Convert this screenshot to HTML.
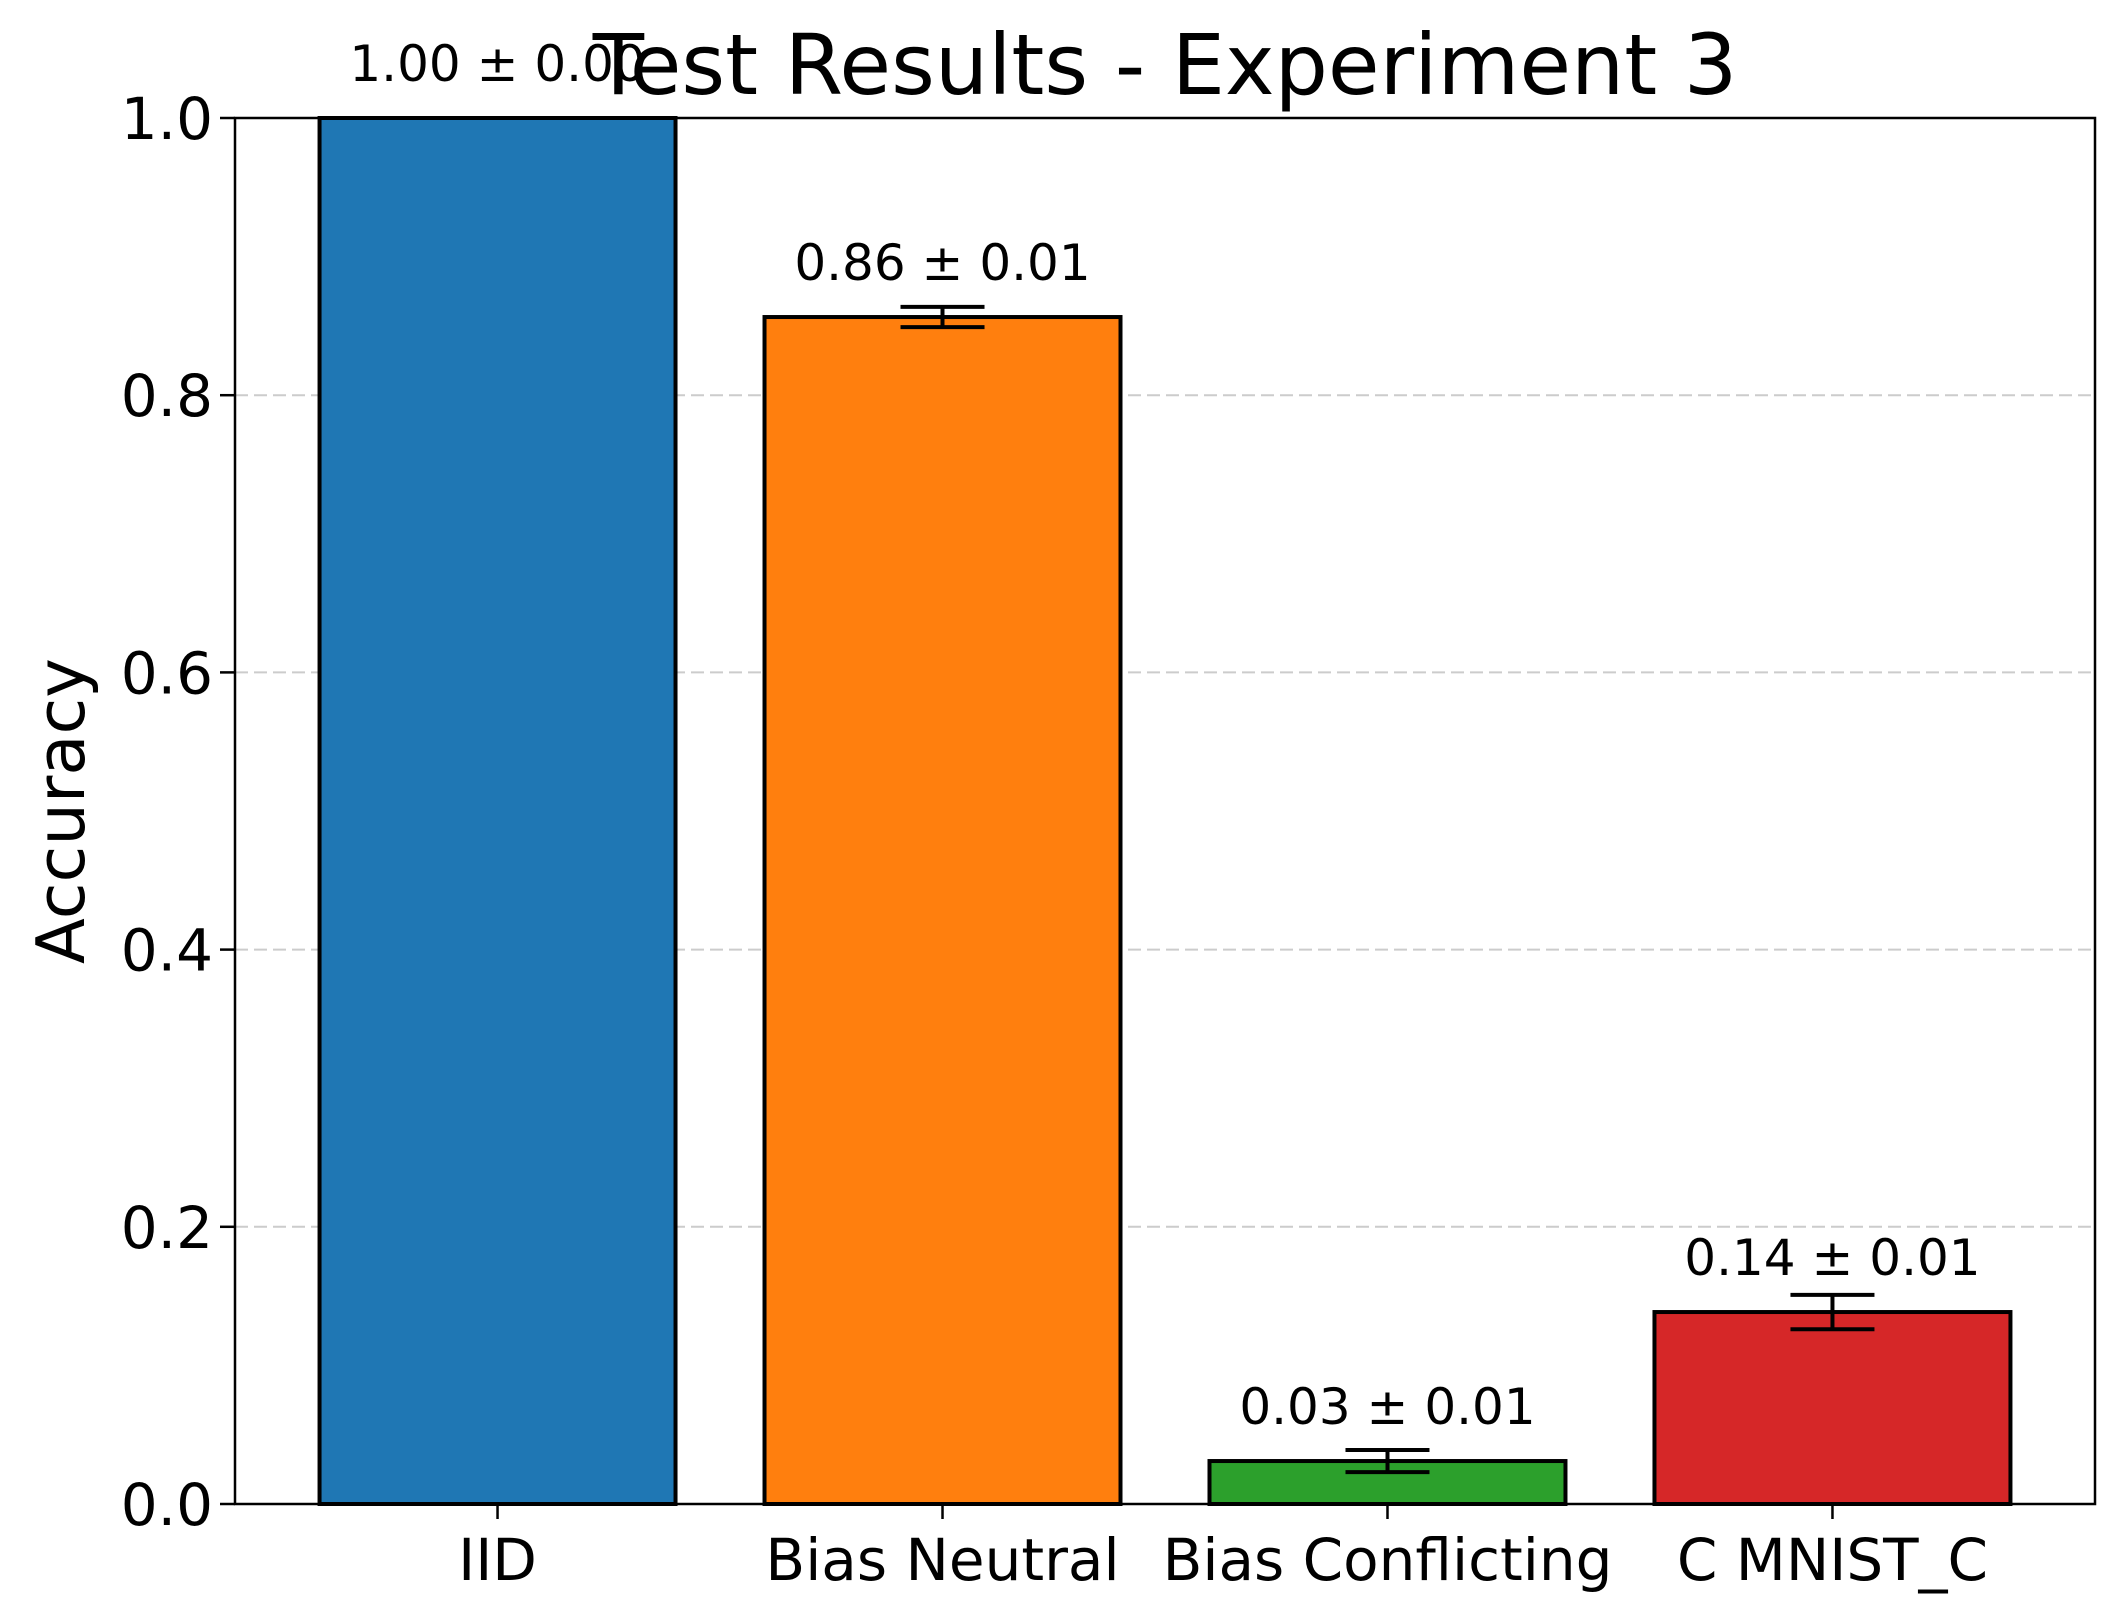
<!DOCTYPE html>
<html><head><meta charset="utf-8"><style>
html,body{margin:0;padding:0;background:#fff;}
svg{display:block;font-family:"DejaVu Sans","Liberation Sans",sans-serif;}
</style></head><body>
<svg id="chart" width="2124" height="1621" viewBox="0 0 2124 1621" xmlns="http://www.w3.org/2000/svg">
<defs><clipPath id="plotclip"><rect x="235" y="118" width="1860" height="1386"/></clipPath></defs>
<rect x="0" y="0" width="2124" height="1621" fill="#fff"/>
<g id="grid"></g>
<g id="bars"></g>
<g id="errs" clip-path="url(#plotclip)"></g>
<g id="labels"></g>
<rect x="235" y="118" width="1860" height="1386" fill="none" stroke="#000" stroke-width="2.5"/>
<g id="yticks"></g>
<g id="xticks"></g>
<text x="1165" y="94" font-size="84" text-anchor="middle">Test Results - Experiment 3</text>
<text x="0" y="0" font-size="67" text-anchor="middle" transform="translate(84,811) rotate(-90)">Accuracy</text>
</svg>
<script>
const categories = ["IID", "Bias Neutral", "Bias Conflicting", "C MNIST_C"];
const values = [1.0, 0.8564, 0.031, 0.1385];
const errors = [0.0, 0.0073, 0.008, 0.0124];
const valueLabels = ["1.00 ± 0.00", "0.86 ± 0.01", "0.03 ± 0.01", "0.14 ± 0.01"];
const colors = ["#1f77b4", "#ff7f0e", "#2ca02c", "#d62728"];
const yTicks = [0.0, 0.2, 0.4, 0.6, 0.8, 1.0];
const yTickLabels = ["0.0", "0.2", "0.4", "0.6", "0.8", "1.0"];

const NS = "http://www.w3.org/2000/svg";
const L = 235, R = 2095, T = 118, B = 1504;
const xmin = -0.59, xmax = 3.59, ymin = 0, ymax = 1;
function xs(v){ return L + (v - xmin) / (xmax - xmin) * (R - L); }
function ys(v){ return B - (v - ymin) / (ymax - ymin) * (B - T); }
function mk(tag, attrs, parent){ const e = document.createElementNS(NS, tag); for (const k in attrs) e.setAttribute(k, attrs[k]); document.getElementById(parent).appendChild(e); return e; }

yTicks.forEach((t, i) => {
  const y = ys(t);
  if (t > 0 && t < 1) {
    const g = mk("line", {x1: L, x2: R, y1: y, y2: y, stroke: "#cccccc", "stroke-width": 2, "stroke-dasharray": "13,6"}, "grid");
    
    
  }
  const tk = mk("line", {x1: L - 15, x2: L, y1: y, y2: y, stroke: "#000", "stroke-width": 2.5}, "yticks");
  
  
  const tl = mk("text", {x: L - 22, y: y + 21, "font-size": 58, "text-anchor": "end"}, "yticks");
  tl.textContent = yTickLabels[i];
  
  
});

const bw = 0.8;
categories.forEach((c, i) => {
  const x0 = xs(i - bw / 2), x1 = xs(i + bw / 2), yt = ys(values[i]);
  const b = mk("rect", {x: x0, y: yt, width: x1 - x0, height: B - yt, fill: colors[i], stroke: "#000", "stroke-width": 4}, "bars");
  
  
  if (errors[i] > 0) {
    const cx0 = xs(i), ya = ys(values[i] + errors[i]), yb = ys(values[i] - errors[i]);
    const e1 = mk("line", {x1: cx0, x2: cx0, y1: ya, y2: yb, stroke: "#000", "stroke-width": 4}, "errs");
    
    
    [ya, yb].forEach(yy => {
      const cp = mk("line", {x1: cx0 - 42, x2: cx0 + 42, y1: yy, y2: yy, stroke: "#000", "stroke-width": 4}, "errs");
      
      
    });
  }
  const cx = xs(i);
  const vl = mk("text", {x: cx, y: ys(values[i]) - 37, "font-size": 50, "text-anchor": "middle"}, "labels");
  vl.textContent = valueLabels[i];
  
  
  const xt = mk("line", {x1: cx, x2: cx, y1: B, y2: B + 15, stroke: "#000", "stroke-width": 2.5}, "xticks");
  
  
  const xl = mk("text", {x: cx, y: 1580, "font-size": 58, "text-anchor": "middle"}, "xticks");
  xl.textContent = c;
  
  
});
</script>
</body></html>
